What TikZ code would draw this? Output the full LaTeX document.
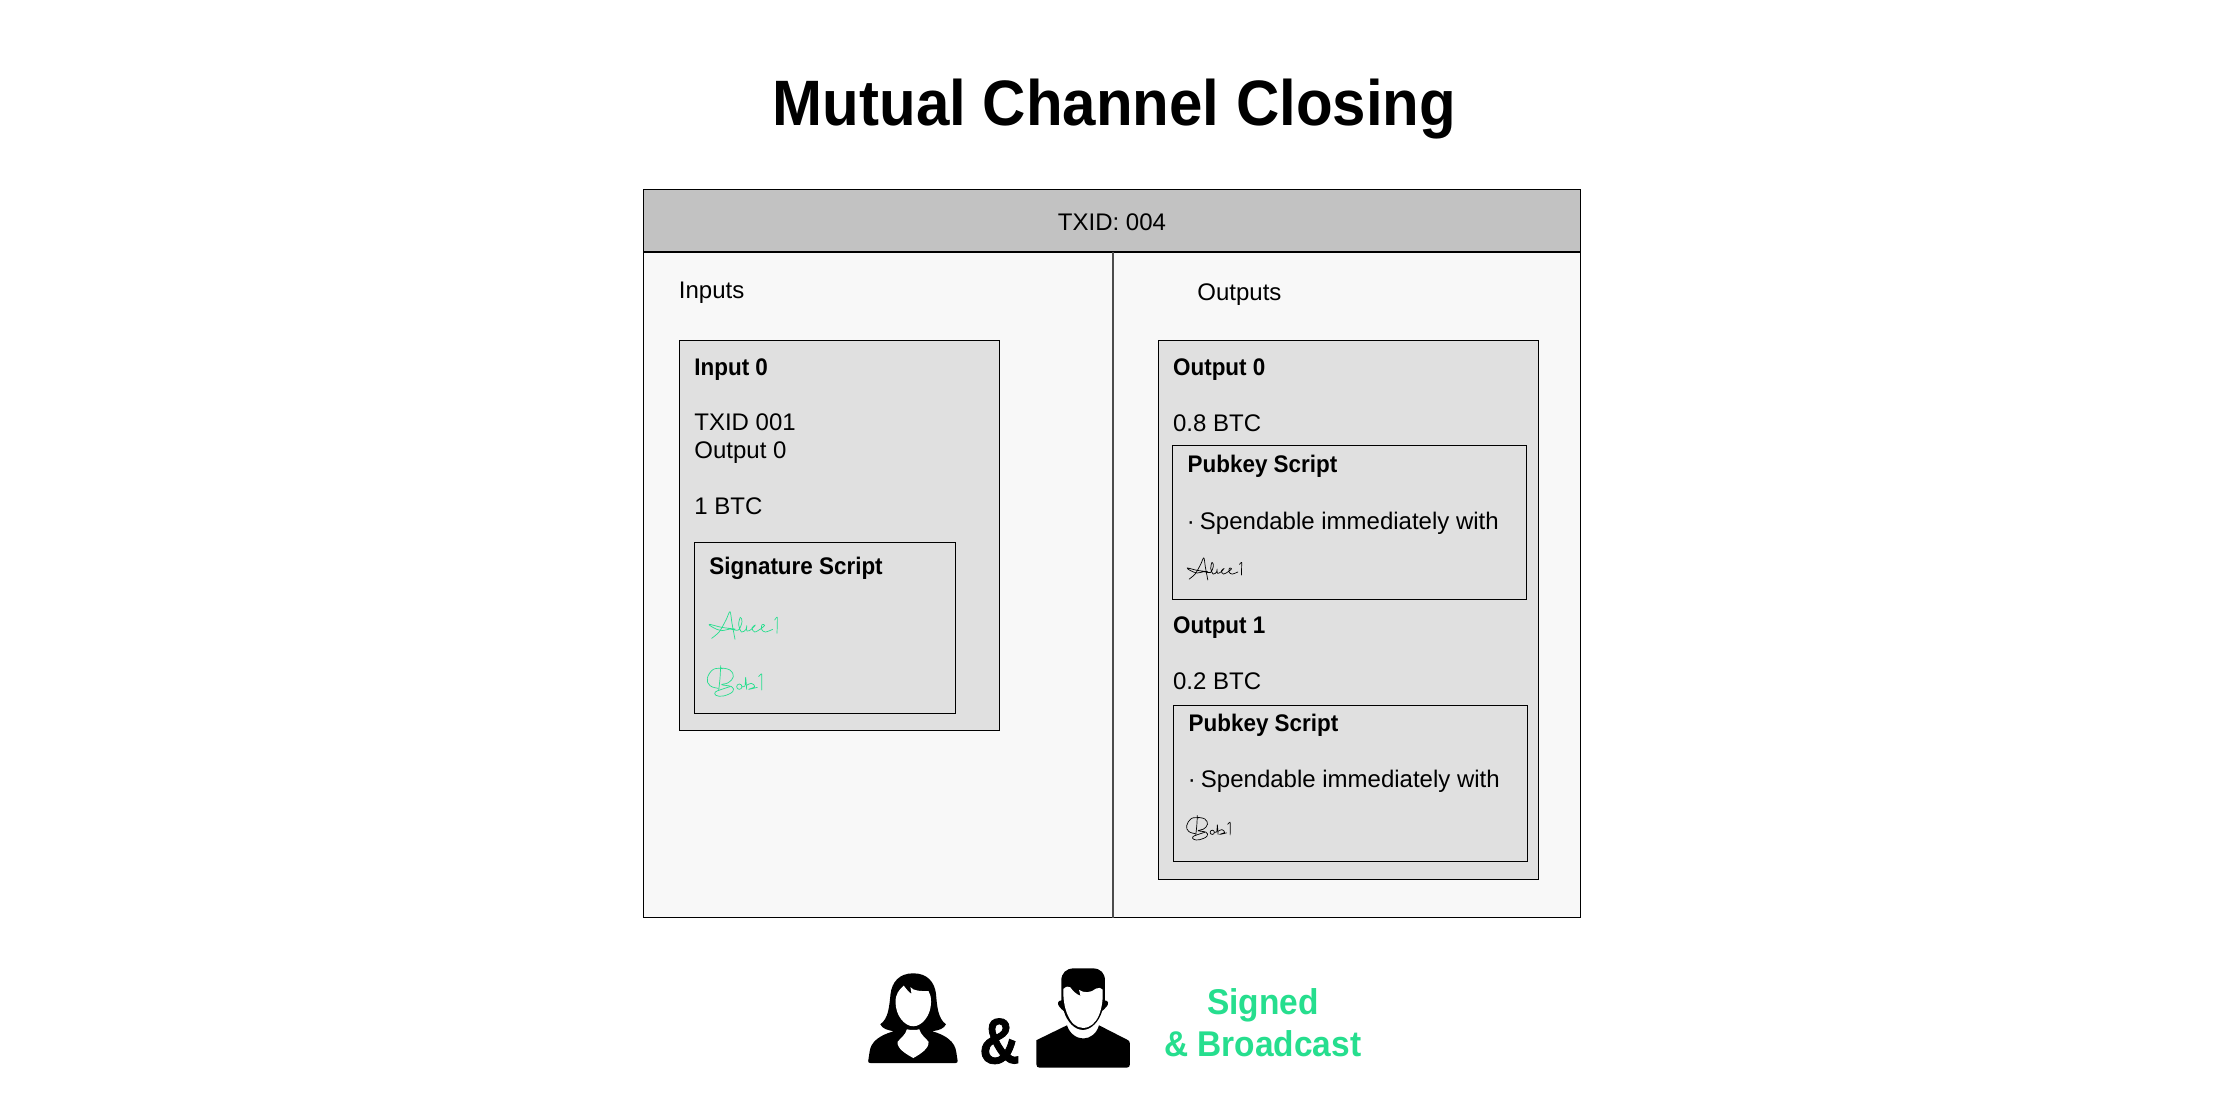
\documentclass[tikz,border=0pt]{standalone}
\usepackage{fontspec}
\setmainfont{Liberation Sans}
\newfontface\boldnarrow[FakeStretch=0.935]{Liberation Sans Bold}
\newfontface\ampfont[FakeStretch=0.86,FakeBold=1.2]{Liberation Sans Bold}
\definecolor{sgreen}{HTML}{26DE8E}
\definecolor{headgrey}{HTML}{C2C2C2}
\definecolor{panelgrey}{HTML}{F8F8F8}
\definecolor{boxgrey}{HTML}{E0E0E0}
\newcommand{\sigAlice}{%
 \draw[sigline] plot[smooth,tension=.5] coordinates {(95,325) (118,305) (138,270) (150,245) (156,280) (165,328)};
 \draw[sigline] plot[smooth,tension=.6] coordinates {(165,297) (125,292) (88,283) (100,293) (125,302) (150,297) (175,300) (186,275) (181,262) (176,285) (185,306) (198,298) (200,287) (201,303) (214,298) (226,285) (216,294) (224,306) (243,296) (254,286) (246,284) (245,298) (256,306) (278,298)};
 \draw[sigline] plot[smooth,tension=.3] coordinates {(284,270) (292,262) (291,310)};}
\newcommand{\sigBob}{%
 \draw[sigline] plot[smooth,tension=.5] coordinates {(122,407) (120,445) (116,482)};
 \draw[sigline] plot[smooth,tension=.7] coordinates {(128,416) (100,418) (82,445) (90,467) (115,475)};
 \draw[sigline] plot[smooth,tension=.7] coordinates {(122,414) (150,420) (160,440) (145,458) (125,464) (155,470) (158,485) (130,498) (108,496) (106,486) (125,478) (150,470)};
 \draw[sigline] (178,470) circle[radius=8];
 \draw[sigline] plot[smooth,tension=.4] coordinates {(186,470) (195,468) (197,442) (200,478)};
 \draw[sigline] plot[smooth,tension=.7] coordinates {(200,466) (214,460) (224,470) (206,478) (232,472)};
 \draw[sigline] plot[smooth,tension=.3] coordinates {(236,440) (245,432) (245,480)};}
\tikzset{
 framebox/.style={draw=black,line width=.5pt,fill=boxgrey},
 body/.style={inner sep=0pt,anchor=base west,yshift=-.4pt,font=\fontsize{12}{14}\selectfont},
 bodyb/.style={body,font=\fontsize{12}{14}\boldnarrow},
 sigline/.style={line width=.35pt,line cap=round,line join=round,sigcol},
 sigcol/.style={},
}
\begin{document}
\begin{tikzpicture}[x=0.5pt,y=-0.5pt]
\useasboundingbox (0,0) rectangle (2224,1118);
\fill[white] (0,0) rectangle (2224,1118);
\node[inner sep=0pt,anchor=base,font=\fontsize{32.1}{36}\boldnarrow] (title) at (1114.5,126) {Mutual Channel Closing};
% frame
\draw[line width=.5pt,fill=panelgrey] (643.5,189.5) rectangle (1580,917.5);
\draw[line width=.5pt,fill=headgrey] (643.5,189.5) rectangle (1580,251.7);
\draw[line width=1pt] (643.5,251.7) -- (1580,251.7);
\draw[line width=.6pt,draw=black!70] (1113,251.7) -- (1113,917.5);
\node[body,anchor=base] (txid) at (1112,230.2) {TXID: 004};
\node[body] (inputs) at (678.5,297.7) {Inputs};
\node[body] (outputs) at (1197,300) {Outputs};
% input
\draw[framebox] (679.5,340.5) rectangle (999.7,730);
\draw[framebox] (694.5,542) rectangle (955.7,713);
\node[bodyb] (in0) at (694,374.5) {Input 0};
\node[body] (tx1) at (694,430) {TXID 001};
\node[body] (out0ref) at (694,458) {Output 0};
\node[body] (btc1) at (694,514) {1 BTC};
\node[bodyb] (sigs) at (709,574) {Signature Script};
\begin{scope}[shift={(680,530)},x=.16667pt,y=-.16667pt,sigcol/.style={draw=sgreen}]
\sigAlice \sigBob
\end{scope}
% output
\draw[framebox] (1158,340.5) rectangle (1538,879);
\draw[framebox] (1172.5,446) rectangle (1526.7,599);
\draw[framebox] (1173.5,705) rectangle (1527.7,861);
\node[bodyb] (o0) at (1172.7,374.5) {Output 0};
\node[body] (b08) at (1172.7,431) {0.8 BTC};
\node[bodyb] (pk1) at (1187.3,472) {Pubkey Script};
\node[body] (sp1) at (1186.5,529) {·\hspace{-.8pt} Spendable immediately with};
\node[bodyb] (o1) at (1172.7,633) {Output 1};
\node[body] (b02) at (1172.7,689) {0.2 BTC};
\node[bodyb] (pk2) at (1188.3,731) {Pubkey Script};
\node[body] (sp2) at (1187.5,787) {·\hspace{-.8pt} Spendable immediately with};
\begin{scope}[shift={(1163.8,492.5)},x=.1333pt,y=-.1333pt,sigcol/.style={draw=black}]
\sigAlice
\end{scope}
\begin{scope}[shift={(1164.8,707)},x=.1333pt,y=-.1333pt,sigcol/.style={draw=black}]
\sigBob
\end{scope}
% footer
\begin{scope}[shift={(840.5,950.8)},x=.1775pt,y=-.1655pt]
% woman
\fill[black] (205,68) .. controls (165,68) and (145,95) .. (141,130)
 .. controls (137,170) and (135,205) .. (112,222)
 .. controls (118,235) and (132,240) .. (150,243)
 .. controls (110,255) and (85,275) .. (82,305) -- (78,333)
 .. controls (78,337) and (80,339) .. (84,339) -- (324,339)
 .. controls (328,339) and (330,337) .. (330,333) -- (326,305)
 .. controls (322,275) and (298,255) .. (258,243)
 .. controls (278,240) and (292,235) .. (297,222)
 .. controls (275,205) and (272,170) .. (269,130)
 .. controls (265,95) and (245,68) .. (205,68) -- cycle;
\fill[white] (178,105) .. controls (165,118) and (155,130) .. (155,155)
 .. controls (155,195) and (180,228) .. (205,228)
 .. controls (230,228) and (255,195) .. (255,155)
 .. controls (255,140) and (253,130) .. (248,122)
 .. controls (230,122) and (205,122) .. (197,110)
 -- (200,130) .. controls (192,125) and (185,115) .. (178,105) -- cycle;
\fill[white] (187,237) .. controls (195,240) and (215,240) .. (222,237)
 .. controls (226,255) and (240,262) .. (248,275)
 .. controls (250,295) and (225,312) .. (205,324)
 .. controls (185,312) and (158,295) .. (161,275)
 .. controls (170,262) and (183,255) .. (187,237) -- cycle;
% man
\fill[black] (638,225) .. controls (645,250) and (665,265) .. (684,265)
 .. controls (703,265) and (722,250) .. (728,225)
 -- (810,270) .. controls (813,272) and (815,275) .. (815,280) -- (815,344)
 .. controls (815,350) and (812,353) .. (806,353) -- (561,353)
 .. controls (555,353) and (552,350) .. (552,344) -- (552,270) -- cycle;
\fill[black] (622,150) -- (622,90) .. controls (622,68) and (635,53) .. (658,53) -- (710,53)
 .. controls (733,53) and (745,68) .. (745,90) -- (745,150)
 .. controls (755,150) and (756,160) .. (750,168)
 .. controls (745,175) and (740,178) .. (737,182)
 .. controls (728,215) and (705,239) .. (683,239)
 .. controls (660,239) and (638,215) .. (629,182)
 .. controls (625,178) and (620,175) .. (616,168)
 .. controls (610,160) and (612,150) .. (622,150) -- cycle;
\fill[white] (628,115) .. controls (635,108) and (642,106) .. (647,110)
 .. controls (655,122) and (665,132) .. (676,136) -- (672,118)
 .. controls (685,128) and (705,128) .. (720,114)
 .. controls (728,110) and (735,112) .. (738,117)
 .. controls (742,170) and (725,233) .. (683,233)
 .. controls (645,233) and (625,170) .. (628,115) -- cycle;
\end{scope}
\node[inner sep=0pt,anchor=base,font=\fontsize{32.4}{36}\ampfont] (amp) at (999.5,1063.3) {\&};
\node[inner sep=0pt,anchor=base,text=sgreen,font=\fontsize{17.9}{20}\boldnarrow] (signed) at (1263,1014.5) {Signed};
\node[inner sep=0pt,anchor=base,text=sgreen,font=\fontsize{17.9}{20}\boldnarrow] (broad) at (1262.8,1056.7) {\& Broadcast};
\end{tikzpicture}
\end{document}
